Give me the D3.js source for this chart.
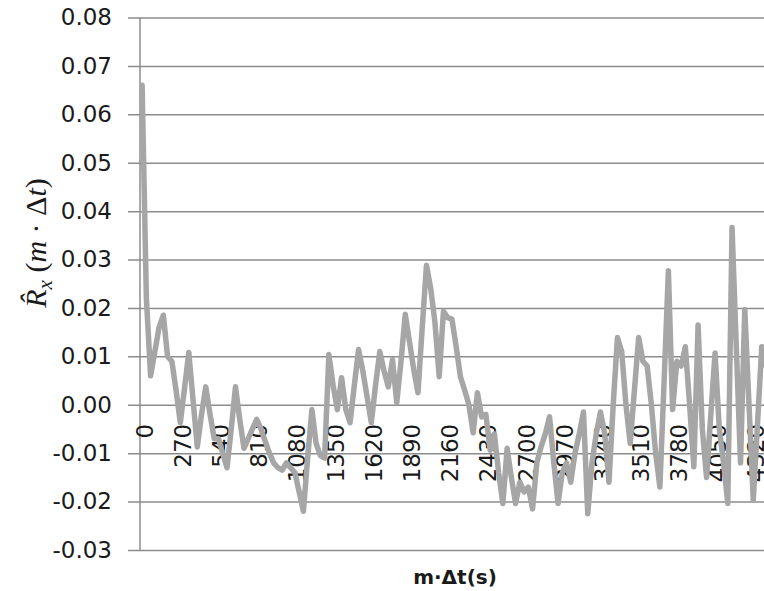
<!DOCTYPE html>
<html>
<head>
<meta charset="utf-8">
<script src="https://cdn.jsdelivr.net/npm/d3@7"></script>
<style>
  html, body { margin: 0; padding: 0; background: #fff; overflow: hidden; }
  text { fill: #1a1a1a; }
</style>
</head>
<body>
<svg id="chart" width="764" height="591"></svg>
<script>
// Autocorrelation estimate, one value per lag step (dt = 30 s)
const lagStep = 30;
const values = [
  0.066, 0.022, 0.006, 0.011, 0.016, 0.0185, 0.010, 0.009, 0.003, -0.0037,
  0.0035, 0.0108, 0.001, -0.0087, -0.002, 0.0037, -0.002, -0.007, -0.007, -0.010,
  -0.013, -0.005, 0.0037, -0.003, -0.009, -0.007, -0.005, -0.003, -0.005, -0.0075,
  -0.010, -0.012, -0.013, -0.0135, -0.012, -0.013, -0.014, -0.018, -0.022, -0.011,
  -0.001, -0.008, -0.0105, -0.011, 0.0104, 0.004, -0.001, 0.0056, -0.001, -0.0037,
  0.004, 0.0114, 0.007, 0.0017, -0.0037, 0.004, 0.011, 0.007, 0.0037, 0.0093,
  0.0004, 0.009, 0.0187, 0.013, 0.0073, 0.0025, 0.016, 0.0288, 0.024, 0.017,
  0.0058, 0.0193, 0.018, 0.0177, 0.012, 0.0058, 0.003, 0.000, -0.0058, 0.0025,
  -0.0025, -0.002, -0.0094, -0.006, -0.014, -0.0204, -0.009, -0.015, -0.0204, -0.016,
  -0.018, -0.017, -0.0215, -0.012, -0.0087, -0.006, -0.0025, -0.012, -0.0204, -0.014,
  -0.012, -0.016, -0.010, -0.006, -0.0015, -0.0225, -0.012, -0.006, -0.0015, -0.006,
  -0.016, 0.000, 0.0139, 0.011, 0.000, -0.008, 0.003, 0.0139, 0.009, 0.008,
  0.000, -0.010, -0.017, 0.005, 0.0277, -0.001, 0.009, 0.008, 0.012, 0.000,
  -0.0128, 0.0165, -0.005, -0.015, -0.002, 0.0107, -0.005, -0.012, -0.0204, 0.0366,
  0.012, -0.012, 0.0197, 0.000, -0.0197, -0.004, 0.012, 0.008
];
const lags = values.map((v, i) => i * lagStep);
const labelEvery = 9;          // one category label per 270 s
const yTicks = [0.08, 0.07, 0.06, 0.05, 0.04, 0.03, 0.02, 0.01, 0.00, -0.01, -0.02, -0.03];

const data = lags.map((t, i) => ({ t: t, v: values[i] }));

// Set up SVG
const svg = d3.select("#chart");
const plot = { left: 140, top: 17.5, bottom: 550 };
const bandW = 4.244;

// Create scales
const xScale = d3.scaleBand()
    .domain(lags)
    .range([plot.left, plot.left + lags.length * bandW])
    .paddingInner(0)
    .paddingOuter(0);

const yScale = d3.scaleLinear()
    .domain([-0.03, 0.08])
    .range([plot.bottom, plot.top]);

const xPos = t => xScale(t) + xScale.bandwidth() / 2;

// Excel style numbers: plain hyphen for negatives
const fmt = d => d3.format(".2f")(d).replace("\u2212", "-");

// Gridlines + y axis
const yAxis = d3.axisLeft(yScale)
    .tickValues(yTicks)
    .tickSize(-(764 - plot.left))
    .tickSizeOuter(0)
    .tickPadding(28)
    .tickFormat(fmt);

const gy = svg.append("g")
    .attr("transform", `translate(${plot.left},0)`)
    .call(yAxis);

gy.select(".domain").remove();
gy.selectAll(".tick line")
    .attr("x1", -12)
    .attr("stroke", "#8c8c8c")
    .attr("stroke-width", 1.5);
gy.selectAll(".tick text")
    .attr("font-family", "DejaVu Sans")
    .attr("font-size", 23)
    .attr("fill", "#1a1a1a");

// vertical axis line
svg.append("line")
    .attr("x1", plot.left).attr("x2", plot.left)
    .attr("y1", yScale(0.08)).attr("y2", yScale(-0.03))
    .attr("stroke", "#8c8c8c")
    .attr("stroke-width", 1.5);

// Category labels, sitting under the zero line
const labelLags = lags.filter((t, i) => i % labelEvery === 0);
svg.append("g")
    .selectAll("text")
    .data(labelLags)
    .enter().append("text")
    .attr("transform", d => `translate(${xPos(d)},${yScale(0) + 19}) rotate(-90)`)
    .attr("text-anchor", "end")
    .attr("dy", "0.46em")
    .attr("font-family", "DejaVu Sans")
    .attr("font-size", 23)
    .text(d => d);

// Line generator
const line = d3.line()
    .x(d => xPos(d.t))
    .y(d => yScale(d.v));

svg.append("path")
    .datum(data)
    .attr("d", line)
    .attr("fill", "none")
    .attr("stroke", "#a6a6a6")
    .attr("stroke-width", 5.5)
    .attr("stroke-linejoin", "round")
    .attr("stroke-linecap", "round");

// Axis titles
svg.append("text")
    .attr("x", 455)
    .attr("y", 584)
    .attr("text-anchor", "middle")
    .attr("font-family", "DejaVu Sans")
    .attr("font-weight", "bold")
    .attr("font-size", 20)
    .text("m·Δt(s)");

const yTitle = svg.append("text")
    .attr("transform", "translate(46,243) rotate(-90)")
    .attr("text-anchor", "middle")
    .attr("font-family", "Liberation Serif")
    .attr("font-size", 30);
yTitle.append("tspan").attr("font-style", "italic").text("R\u0302");
yTitle.append("tspan").attr("font-style", "italic").attr("font-size", 21).attr("dy", 6).text("x");
yTitle.append("tspan").attr("dy", -6).text(" (");
yTitle.append("tspan").attr("font-style", "italic").text("m");
yTitle.append("tspan").text(" · Δ");
yTitle.append("tspan").attr("font-style", "italic").text("t");
yTitle.append("tspan").text(")");
</script>
</body>
</html>
